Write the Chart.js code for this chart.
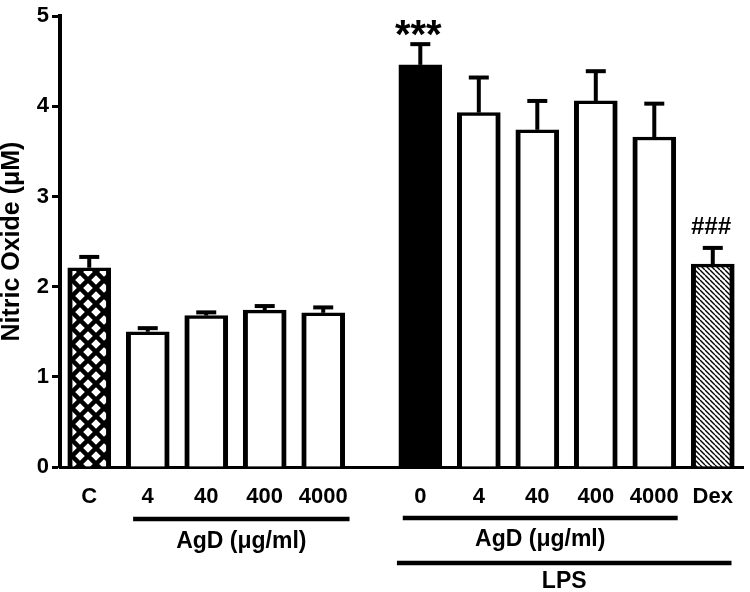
<!DOCTYPE html>
<html>
<head>
<meta charset="utf-8">
<script src="https://cdn.jsdelivr.net/npm/chart.js@4"></script>
<style>
  body { margin: 0; background: #fff; }
  #wrap { width: 750px; height: 592px; }
</style>
</head>
<body>
<div id="wrap"><canvas id="myChart" width="750" height="592"></canvas></div>
<script>
// data
const categories = ['C', '4', '40', '400', '4000', '0', '4', '40', '400', '4000', 'Dex'];
const groupOf    = [0, 0, 0, 0, 0, 1, 1, 1, 1, 1, 1];   // 0 = no LPS, 1 = LPS
const means      = [2.21, 1.50, 1.68, 1.74, 1.71, 4.46, 3.93, 3.74, 4.06, 3.66, 2.25];
const sem        = [0.12, 0.04, 0.035, 0.045, 0.06, 0.23, 0.39, 0.32, 0.33, 0.37, 0.18];
const marks      = ['', '', '', '', '', '***', '', '', '', '', '###'];
const fillKind   = ['cross', 'open', 'open', 'open', 'open', 'solid', 'open', 'open', 'open', 'open', 'hatch'];
const yTicks     = [0, 1, 2, 3, 4, 5];
const doseLabel  = 'AgD (\u03bcg/ml)';
const lpsLabel   = 'LPS';

const GAP = 0.66;  // extra space between the two groups (in bar slots)
const positions = categories.map((c, i) => i + groupOf[i] * GAP);

function makePattern(kind)
{
  const c = document.createElement('canvas');
  const g = c.getContext('2d');
  if (kind == 'cross') {
    c.width = 16; c.height = 16;
    g.fillStyle = '#fff'; g.fillRect(0, 0, 16, 16);
    g.strokeStyle = '#000'; g.lineWidth = 4.5;
    g.beginPath();
    for (var o = -16; o <= 16; o += 16) {
      g.moveTo(o, 0); g.lineTo(o + 16, 16);
      g.moveTo(o + 16, 0); g.lineTo(o, 16);
    }
    g.stroke();
  } else {
    c.width = 5; c.height = 5;
    g.fillStyle = '#fff'; g.fillRect(0, 0, 5, 5);
    g.strokeStyle = '#000'; g.lineWidth = 1.4;
    g.beginPath();
    for (var o = -5; o <= 5; o += 5) {
      g.moveTo(o, 0); g.lineTo(o + 5, 5);
    }
    g.stroke();
  }
  return g.createPattern(c, 'repeat');
}
const crossFill = makePattern('cross');
const hatchFill = makePattern('hatch');
const fills = fillKind.map(k => k == 'cross' ? crossFill : k == 'hatch' ? hatchFill : k == 'solid' ? '#000' : '#fff');

const markStyle = {
  '***': { font: 'bold 40px "Liberation Sans", Arial', dy: 4 },
  '###': { font: 'italic bold 24px "Liberation Sans", Arial', dy: -14 }
};

const extras = {
  id: 'extras',
  afterDatasetsDraw(chart) {
    const ctx = chart.ctx;
    const xs = chart.scales.x, ys = chart.scales.y;
    const meta = chart.getDatasetMeta(0);
    ctx.save();
    ctx.strokeStyle = '#000';
    ctx.fillStyle = '#000';
    for (var i = 0; i < means.length; i++) {
      const el = meta.data[i];
      const top = ys.getPixelForValue(means[i] + sem[i]);
      ctx.lineWidth = 4;
      ctx.beginPath();
      ctx.moveTo(el.x, el.y);
      ctx.lineTo(el.x, top);
      ctx.stroke();
      ctx.lineWidth = 4;
      ctx.beginPath();
      ctx.moveTo(el.x - 10, top);
      ctx.lineTo(el.x + 10, top);
      ctx.stroke();
      if (marks[i]) {
        const st = markStyle[marks[i]];
        ctx.font = st.font;
        ctx.textAlign = 'center';
        ctx.textBaseline = 'alphabetic';
        ctx.fillText(marks[i], el.x - 2, top + st.dy);
      }
    }
    // group lines + labels below the axis
    const base = chart.chartArea.bottom;
    const first0 = positions[groupOf.indexOf(0) + 1];
    const last0 = positions[groupOf.lastIndexOf(0)];
    const first1 = positions[groupOf.indexOf(1)];
    const last1 = positions[groupOf.lastIndexOf(1) - 1];
    const lpsEnd = positions[groupOf.lastIndexOf(1)];
    function bar(a, b, y) {
      ctx.lineWidth = 4.5;
      ctx.beginPath();
      ctx.moveTo(xs.getPixelForValue(a), y);
      ctx.lineTo(xs.getPixelForValue(b), y);
      ctx.stroke();
    }
    function label(t, a, b, y) {
      ctx.font = 'bold 23px "Liberation Sans", Arial';
      ctx.textAlign = 'center';
      ctx.textBaseline = 'middle';
      ctx.fillText(t, (xs.getPixelForValue(a) + xs.getPixelForValue(b)) / 2, y);
    }
    bar(first0 - 0.25, last0 + 0.45, base + 52);
    label(doseLabel, first0 - 0.25, last0 + 0.45, base + 75);
    bar(first1 - 0.3, last1 + 0.4, base + 51);
    label(doseLabel, first1 - 0.3, last1 + 0.4, base + 73);
    bar(first1 - 0.4, lpsEnd + 0.32, base + 96);
    label(lpsLabel, first1 - 0.4, lpsEnd + 0.32, base + 115);
    ctx.restore();
  }
};

const ctx = document.getElementById('myChart').getContext('2d');
const myChart = new Chart(ctx, {
  type: 'bar',
  data: {
    datasets: [{
      data: positions.map((p, i) => ({ x: p, y: means[i] })),
      backgroundColor: fills,
      borderColor: '#000',
      borderWidth: { top: 3.5, left: 5, right: 5, bottom: 0 },
      barThickness: 43
    }]
  },
  options: {
    responsive: false,
    animation: false,
    layout: { padding: { top: 10, right: 1, left: 0, bottom: 0 } },
    plugins: { legend: { display: false }, tooltip: { enabled: false } },
    scales: {
      x: {
        type: 'linear',
        min: -0.5,
        max: 11.18,
        offset: false,
        grid: { display: true, offset: false, drawOnChartArea: false, drawTicks: false },
        border: { color: '#000', width: 3 },
        afterBuildTicks: (scale) => { scale.ticks = positions.map(v => ({ value: v })); },
        afterFit: (scale) => { scale.height = 125; },
        ticks: {
          autoSkip: false,
          maxRotation: 0,
          padding: 17,
          color: '#000',
          font: { family: '"Liberation Sans", Arial', size: 22, weight: 'bold' },
          callback: (v, i) => categories[i]
        }
      },
      y: {
        min: 0,
        max: 5,
        afterBuildTicks: (scale) => { scale.ticks = yTicks.map(v => ({ value: v })); },
        afterFit: (scale) => { scale.width = 60; },
        grid: { drawOnChartArea: false, drawTicks: true, tickLength: 8, tickColor: '#000', tickWidth: 3 },
        border: { color: '#000', width: 4 },
        ticks: {
          padding: 3,
          color: '#000',
          font: { family: '"Liberation Sans", Arial', size: 22, weight: 'bold' }
        },
        title: {
          display: true,
          text: 'Nitric Oxide (\u03bcM)',
          color: '#000',
          padding: 0,
          font: { family: '"Liberation Sans", Arial', size: 25, weight: 'bold', lineHeight: 1 }
        }
      }
    }
  },
  plugins: [extras]
});
</script>
</body>
</html>
